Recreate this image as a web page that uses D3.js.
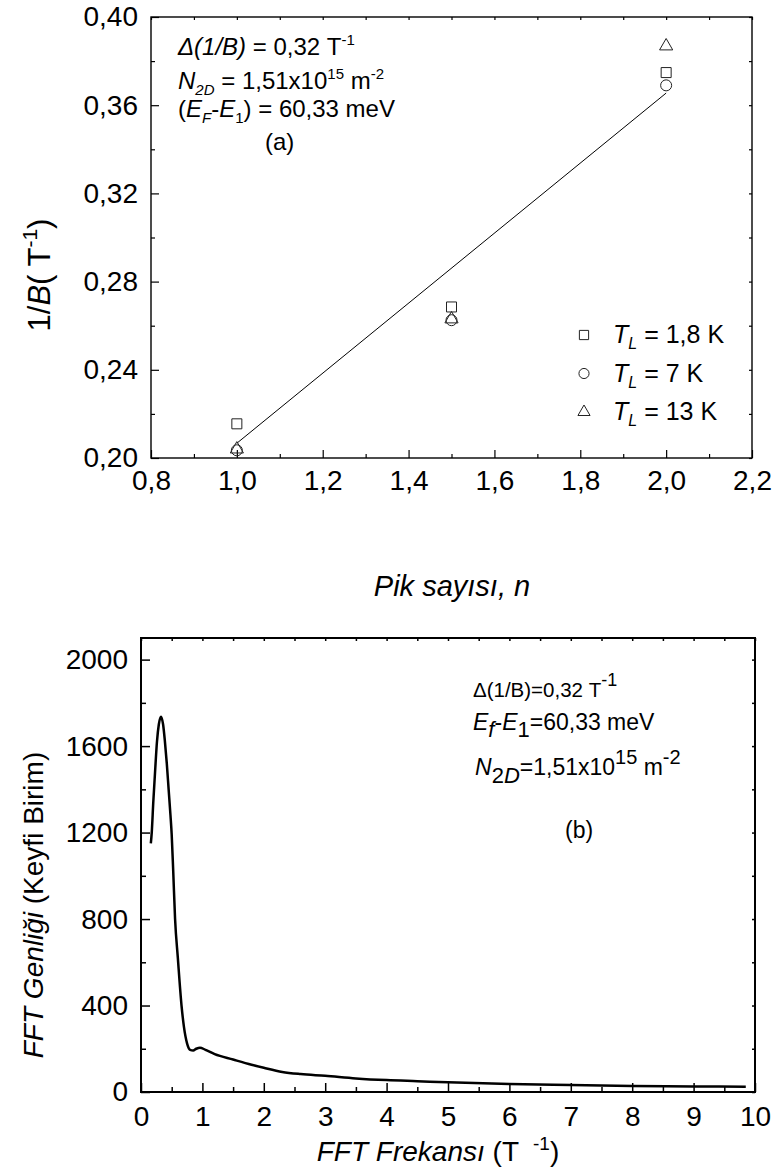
<!DOCTYPE html>
<html><head><meta charset="utf-8">
<script src="https://cdn.jsdelivr.net/npm/d3@7"></script>
<style>
body{margin:0;background:#fff}
svg{display:block}
text{font-family:"Liberation Sans",Arial,sans-serif;fill:#000}
</style>
</head><body>
<svg id="c" width="776" height="1171"></svg>
<script>
// ---------- data: panel (a) ----------
const peakN = [1.0, 1.5, 2.0];
const invB_18K = [0.2155, 0.2685, 0.3748];
const invB_7K  = [0.2035, 0.2625, 0.3690];
const invB_13K = [0.2040, 0.2630, 0.3868];
const fitN = [1.0, 2.0];
const fitInvB = [0.2067, 0.3655];
const topXTicks = [0.8, 1.0, 1.2, 1.4, 1.6, 1.8, 2.0, 2.2];
const topXMinor = [0.9, 1.1, 1.3, 1.5, 1.7, 1.9, 2.1];
const topYTicks = [0.20, 0.24, 0.28, 0.32, 0.36, 0.40];
const topYMinor = [0.22, 0.26, 0.30, 0.34, 0.38];
const legendLabels = ["1,8 K", "7 K", "13 K"];

// ---------- data: panel (b) ----------
const fftFreq = [0.16,0.175,0.20,0.233,0.26,0.29,0.326,0.36,0.39,0.42,0.45,0.48,0.50,0.525,0.555,0.60,0.66,0.70,0.75,0.80,0.85,0.90,0.96,1.05,1.2,1.5,1.8,2.0,2.3,2.6,3.0,3.5,4.0,4.5,5.0,6.0,7.0,8.0,9.0,9.85];
const fftAmp  = [1150,1200,1340,1500,1620,1700,1736,1700,1620,1520,1400,1280,1190,1020,800,620,400,300,225,195,192,200,205,195,175,150,126,112,93,83,75,63,55,50,45,37,32,28,26,24];
const botXTicks = [0,1,2,3,4,5,6,7,8,9,10];
const botXMinor = [0.5,1.5,2.5,3.5,4.5,5.5,6.5,7.5,8.5,9.5];
const botYTicks = [0,400,800,1200,1600,2000];
const botYMinor = [200,600,1000,1400,1800];

const svg = d3.select("#c");
svg.append("rect").attr("width",776).attr("height",1171).attr("fill","#fff");

function axes(x, y, cfg){
  const [x0,x1] = x.range();
  const [y0,y1] = y.range();
  const g = svg.append("g");
  g.append("g").attr("transform",`translate(0,${y0})`)
    .call(d3.axisBottom(x).tickValues(cfg.xt).tickFormat(cfg.fx).tickSizeInner(-cfg.maj).tickSizeOuter(0).tickPadding(cfg.xpad));
  g.append("g").attr("transform",`translate(0,${y0})`)
    .call(d3.axisBottom(x).tickValues(cfg.xm).tickFormat("").tickSizeInner(-cfg.min).tickSizeOuter(0));
  g.append("g").attr("transform",`translate(${x0},0)`)
    .call(d3.axisLeft(y).tickValues(cfg.yt).tickFormat(cfg.fy).tickSizeInner(-cfg.maj).tickSizeOuter(0).tickPadding(cfg.ypad));
  g.append("g").attr("transform",`translate(${x0},0)`)
    .call(d3.axisLeft(y).tickValues(cfg.ym).tickFormat("").tickSizeInner(-cfg.min).tickSizeOuter(0));
  g.append("g").attr("transform",`translate(0,${y1})`)
    .call(d3.axisTop(x).tickValues(cfg.xt.concat(cfg.xm)).tickFormat("").tickSizeInner(-cfg.opp).tickSizeOuter(0));
  g.append("g").attr("transform",`translate(${x1},0)`)
    .call(d3.axisRight(y).tickValues(cfg.yt.concat(cfg.ym)).tickFormat("").tickSizeInner(-cfg.opp).tickSizeOuter(0));
  g.selectAll(".domain").remove();
  g.selectAll(".tick line").attr("stroke","#000").attr("stroke-width",cfg.tw);
  g.selectAll(".tick text").style("font-size",cfg.fs+"px")
    .style("font-family",'"Liberation Sans",Arial,sans-serif').attr("fill","#000");
  g.append("rect").attr("x",x0).attr("y",y1).attr("width",x1-x0).attr("height",y0-y1)
    .attr("fill","none").attr("stroke","#000").attr("stroke-width",cfg.fw);
  return g;
}

function rich(parent, x, y, parts, fs, anchor, transform){
  const t = parent.append("text").attr("x",x).attr("y",y)
    .style("font-size",fs+"px").style("white-space","pre")
    .attr("text-anchor",anchor||"start");
  if (transform) t.attr("transform",transform);
  let cur = 0;
  parts.forEach(p=>{
    const shift = p.sup ? -p.sup : (p.sub ? p.sub : 0);
    const ts = t.append("tspan").text(p.t).attr("dy", shift-cur);
    cur = shift;
    if (p.i) ts.style("font-style","italic");
    if (p.fs) ts.style("font-size",p.fs+"px");
    if (p.dx) ts.attr("dx",p.dx);
  });
  return t;
}

const comma = f => v => d3.format(f)(v).replace(".",",");

// ================= panel (a) =================
const tx = d3.scaleLinear().domain([0.8,2.2]).range([151,752]);
const ty = d3.scaleLinear().domain([0.20,0.40]).range([458,17]);
axes(tx, ty, {xt:topXTicks,xm:topXMinor,yt:topYTicks,ym:topYMinor,
  fx:comma(".1f"), fy:comma(".2f"), maj:8, min:4, opp:3, xpad:12, ypad:13, tw:1.2, fw:1.4, fs:28});

svg.append("path")
  .datum(fitN.map((n,i)=>[n,fitInvB[i]]))
  .attr("d", d3.line().x(d=>tx(d[0])).y(d=>ty(d[1])))
  .attr("fill","none").attr("stroke","#000").attr("stroke-width",1);

const series = [
  {vals:invB_18K, sym:d3.symbolSquare, size:100},
  {vals:invB_7K,  sym:d3.symbolCircle, size:95},
  {vals:invB_13K, sym:d3.symbolTriangle, size:75}
];
series.forEach(s=>{
  svg.append("g").selectAll("path").data(peakN.map((n,i)=>[n,s.vals[i]])).join("path")
    .attr("transform",d=>`translate(${tx(d[0])},${ty(d[1])})`)
    .attr("d", d3.symbol().type(s.sym).size(s.size))
    .attr("fill","none").attr("stroke","#222").attr("stroke-width",1);
});

// legend
const legY = d3.scalePoint().domain(legendLabels).range([335,412]);
series.forEach((s,i)=>{
  const lab = legendLabels[i];
  svg.append("path").attr("transform",`translate(584,${legY(lab)})`)
    .attr("d", d3.symbol().type(s.sym).size(s.size*0.85))
    .attr("fill","none").attr("stroke","#222").attr("stroke-width",1);
  rich(svg, 613, legY(lab)+8, [{t:"T",i:1},{t:"L",i:1,sub:6,fs:16},{t:" = "+lab}], 25);
});

// annotations (a)
rich(svg,178,55,[{t:"Δ(1/B)",i:1},{t:" = 0,32 T"},{t:"-1",sup:10,fs:15}],24);
rich(svg,178,89,[{t:"N",i:1},{t:"2D",i:1,sub:6,fs:15},{t:" = 1,51x10"},{t:"15",sup:10,fs:15},{t:" m"},{t:"-2",sup:10,fs:15}],24);
rich(svg,178,117,[{t:"("},{t:"E",i:1},{t:"F",i:1,sub:6,fs:15},{t:"-"},{t:"E",i:1},{t:"1",sub:6,fs:15},{t:") = 60,33 meV"}],24);
rich(svg,265,150,[{t:"(a)"}],24);

// axis titles (a)
rich(svg,0,0,[{t:"1/"},{t:"B",i:1},{t:"( T"},{t:"-1",sup:13,fs:21},{t:")"}],31,"middle","translate(50,275) rotate(-90)");
rich(svg,452,596,[{t:"Pik sayısı, n",i:1}],29,"middle");

// ================= panel (b) =================
const bx = d3.scaleLinear().domain([0,10]).range([141,755]);
const by = d3.scaleLinear().domain([0,2100]).range([1092,638]);
axes(bx, by, {xt:botXTicks,xm:botXMinor,yt:botYTicks,ym:botYMinor,
  fx:d3.format("d"), fy:d3.format("d"), maj:9, min:5, opp:3, xpad:14, ypad:13, tw:1.5, fw:2, fs:28});

svg.append("path")
  .datum(fftFreq.map((f,i)=>[f,fftAmp[i]]))
  .attr("d", d3.line().x(d=>bx(d[0])).y(d=>by(d[1])).curve(d3.curveMonotoneX))
  .attr("fill","none").attr("stroke","#000").attr("stroke-width",2.5).attr("stroke-linejoin","round");

// annotations (b)
rich(svg,473,697,[{t:"Δ(1/B)=0,32 T"},{t:"-1",sup:11,fs:18}],20.5);
rich(svg,473,730,[{t:"E",i:1},{t:"f",i:1,sub:7,fs:22},{t:"-"},{t:"E",i:1},{t:"1",sub:7,fs:22},{t:"=60,33 meV"}],23);
rich(svg,475,775,[{t:"N",i:1},{t:"2",sub:8,fs:22},{t:"D",i:1,sub:8,fs:22},{t:"=1,51x10"},{t:"15",sup:11,fs:20},{t:" m"},{t:"-2",sup:11,fs:20}],23);
rich(svg,565,838,[{t:"(b)"}],23);

// axis titles (b)
rich(svg,0,0,[{t:"FFT Genliği",i:1},{t:" (Keyfi Birim)"}],28,"middle","translate(43,905) rotate(-90)");
rich(svg,438,1161,[{t:"FFT Frekansı",i:1},{t:" (T"},{t:"-1",sup:11,fs:19,dx:14},{t:")"}],28,"middle");
</script>
</body></html>
